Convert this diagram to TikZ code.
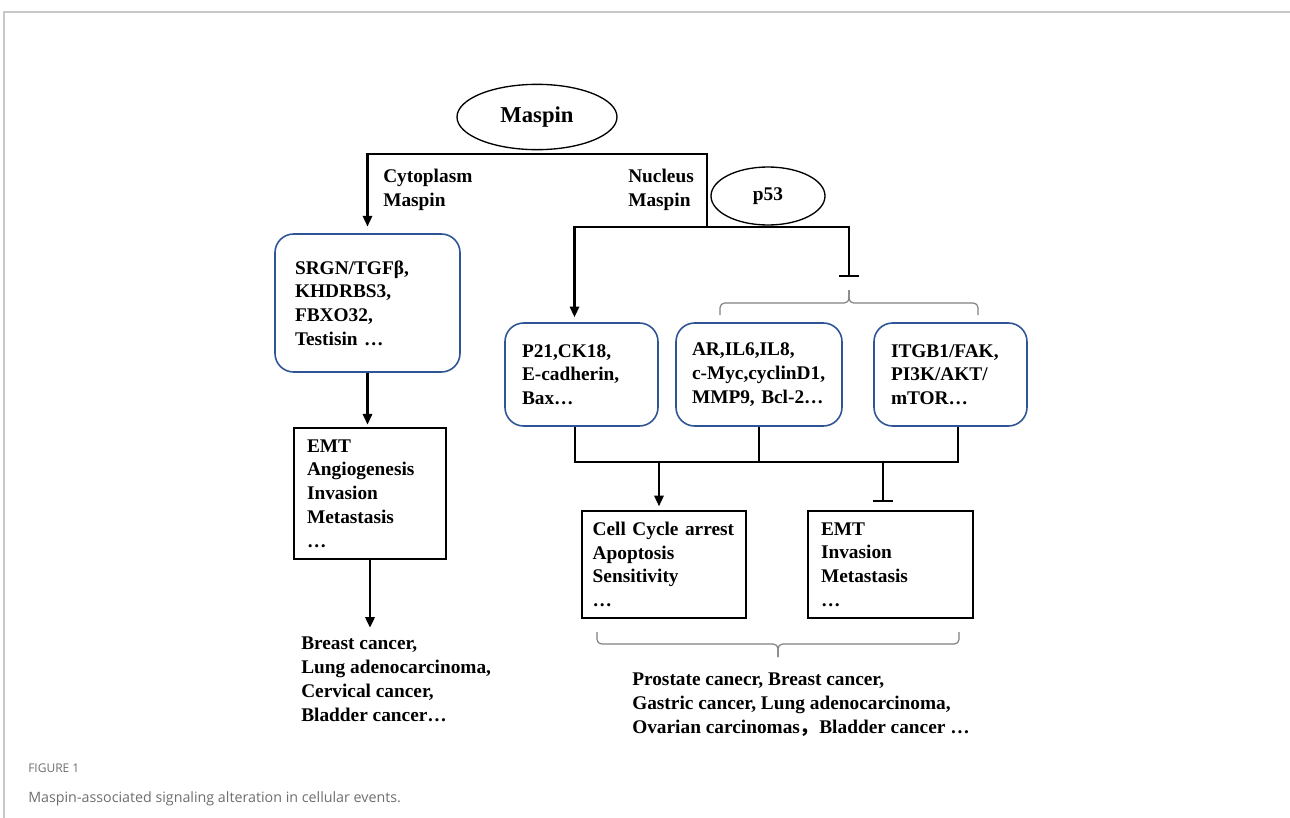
\documentclass[tikz,border=0pt]{standalone}
\usepackage{fontspec}
\setmainfont{Liberation Serif}
\newfontfamily\capfont{Open Sans}
\newfontfamily\cjkfont{Noto Sans CJK SC}
\usetikzlibrary{arrows.meta,calc,shapes.geometric}
\definecolor{boxblue}{RGB}{47,85,151}
\definecolor{capgray}{RGB}{110,110,110}
\definecolor{framegray}{RGB}{200,200,200}
\begin{document}
\begin{tikzpicture}[x=0.75pt,y=-0.75pt,
  bfont/.style={font=\bfseries\fontsize{14.5}{17.8}\selectfont},
  txt/.style={bfont, align=left, inner sep=0pt},
  bluebox/.style={bfont, draw=boxblue, line width=1.2pt, rounded corners=14pt, align=left, inner ysep=0pt},
  blackbox/.style={bfont, draw=black, line width=1.1pt, align=left, inner ysep=0pt},
  oval/.style={ellipse, draw, line width=1pt, bfont, inner sep=0pt},
  conn/.style={line width=1.6pt},
  arr/.style={conn, -{Triangle[length=8pt,width=7pt]}},
  inh/.style={conn, -{Bar[width=15pt,line width=1.6pt]}},
  brace/.style={draw=gray, line width=0.9pt, rounded corners=3.5pt}]
\useasboundingbox (0,0) rectangle (1290,818);
\draw[framegray, line width=0.8pt] (4,818) -- (4,12) -- (1290,12);

% ovals
\node[oval, minimum width=120pt, minimum height=49pt, font=\bfseries\fontsize{17}{20}\selectfont] (maspin) at (537,117) {Maspin};
\node[oval, minimum width=85.5pt, minimum height=43.5pt] (p53) at (768,196) {p53};

% labels
\node[txt, anchor=north west] (cyto) at (383,169) {Cytoplasm\\Maspin};
\node[txt, anchor=north west] (nucl) at (628,169) {Nucleus\\Maspin};

% boxes
\node[bluebox, minimum height=103.5pt, inner xsep=15pt, text width=108.75pt] (srgn) at (367.5,303)
  {SRGN/TGFβ,\\KHDRBS3,\\FBXO32,\\Testisin …};
\node[blackbox, minimum height=98.25pt, inner xsep=9.75pt, text width=94.5pt] (emt1) at (370,493.5)
  {EMT\\Angiogenesis\\Invasion\\Metastasis\\…};
\node[bluebox, minimum height=77.25pt, inner xsep=12.75pt, text width=89.25pt] (p21) at (581.5,374.5)
  {P21,CK18,\\E-cadherin,\\Bax…};
\node[bluebox, minimum height=77.25pt, inner xsep=12pt, text width=100.5pt] (ar) at (759,374.5)
  {AR,IL6,IL8,\\c-Myc,cyclinD1,\\MMP9, Bcl-2…};
\node[bluebox, minimum height=77.25pt, inner xsep=12.75pt, text width=89.25pt] (itg) at (950.5,374.5)
  {ITGB1/FAK,\\PI3K/AKT/\\mTOR…};
\node[blackbox, minimum height=80.25pt, inner xsep=8pt, text width=107pt] (cc) at (664,564.5)
  {Cell Cycle arrest\\Apoptosis\\Sensitivity\\…};
\node[blackbox, minimum height=80.25pt, inner xsep=9.75pt, text width=104.25pt] (emt2) at (890.5,564.5)
  {EMT\\Invasion\\Metastasis\\…};

% cancer lists
\node[txt, anchor=north west] (lcan) at (301,637)
  {Breast cancer,\\Lung adenocarcinoma,\\Cervical cancer,\\Bladder cancer…};
\node[txt, anchor=north west] (rcan) at (632,673)
  {Prostate canecr, Breast cancer,\\Gastric cancer, Lung adenocarcinoma,\\Ovarian carcinomas{\cjkfont ，}Bladder cancer …};

% connectors top
\coordinate (jn) at (707,227);
\coordinate (jt) at (707,154);
\coordinate (inhT) at (849,277);
\draw[arr, shorten >=5pt] (jn) -- (jt) -| (srgn.north);
\draw[arr, shorten >=3.75pt] (jn) -| ($(p21.north)+(-7,0)$);
\draw[inh] (jn) -| (inhT);

% left column
\draw[arr, shorten >=2pt] (srgn.south) -- (srgn.south |- emt1.north);
\draw[arr, line width=2.2pt, shorten >=7pt] (emt1.south) -- (emt1.south |- lcan.north);

% bottom bus
\coordinate (b1) at (575,462);
\coordinate (b3) at (958,462);
\coordinate (b4) at (659,462);
\coordinate (b5) at (883,462);
\draw[conn] (p21.south -| b1) -- (b1) -- (b3) -- (itg.south -| b3);
\draw[conn] (ar.south) -- (ar.south |- b1);
\draw[arr, shorten >=3pt] (b4) -- (b4 |- cc.north);
\draw[inh, shorten >=6pt] (b5) -- (b5 |- emt2.north);

% braces
\draw[brace] (720,315) -- (720,303) -- (849,303) -- (849,290);
\draw[brace] (978,315) -- (978,303) -- (849,303) -- (849,290);
\draw[brace] (597,632) -- (597,644) -- (778,644) -- (778,657);
\draw[brace] (959,632) -- (959,644) -- (778,644) -- (778,657);

% caption
\node[anchor=base west, inner sep=0pt, text=capgray, font=\capfont\fontsize{9}{11}\selectfont] (figlab) at (28,772) {FIGURE 1};
\node[anchor=base west, inner sep=0pt, text=capgray, font=\capfont\fontsize{10.7}{13}\selectfont] (caption) at (28,802) {Maspin-associated signaling alteration in cellular events.};
\end{tikzpicture}
\end{document}
